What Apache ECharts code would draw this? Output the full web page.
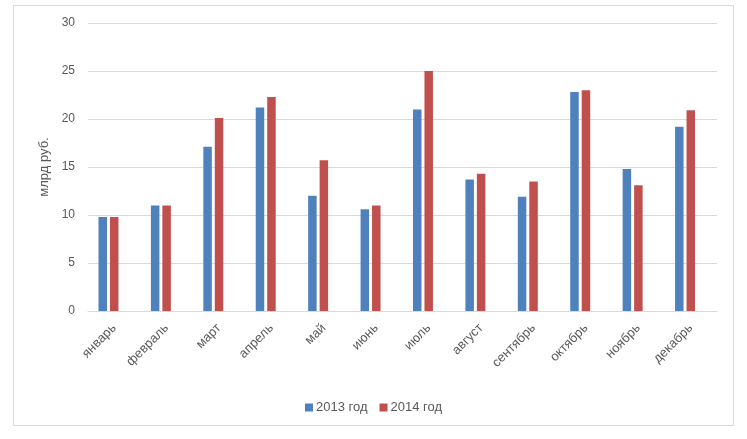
<!DOCTYPE html>
<html>
<head>
<meta charset="utf-8">
<script src="https://cdn.jsdelivr.net/npm/echarts@6/dist/echarts.min.js"></script>
<style>
html,body{margin:0;padding:0;background:#fff;}
#chart{width:747px;height:439px;}
</style>
</head>
<body>
<div id="chart"></div>
<script>
const months = ['январь','февраль','март','апрель','май','июнь','июль','август','сентябрь','октябрь','ноябрь','декабрь'];
const values2013 = [9.8, 11.0, 17.1, 21.2, 12.0, 10.6, 21.0, 13.7, 11.9, 22.8, 14.8, 19.2];
const values2014 = [9.8, 11.0, 20.1, 22.3, 15.7, 11.0, 25.0, 14.3, 13.5, 23.0, 13.1, 20.9];
const emptySlot = [null, null, null, null, null, null, null, null, null, null, null, null];
const yTicks = [0, 5, 10, 15, 20, 25, 30];

const chart = echarts.init(document.getElementById('chart'), null, {renderer: 'canvas'});
const font = 'Liberation Sans, Arial, sans-serif';
chart.setOption({
  animation: false,
  backgroundColor: '#ffffff',
  graphic: [{
    type: 'rect',
    shape: {x: 13.5, y: 5.5, width: 720, height: 420},
    style: {fill: 'none', stroke: '#d9d9d9', lineWidth: 1},
    silent: true
  }],
  grid: {left: 88, right: 30, top: 23, bottom: 128},
  legend: {
    data: ['2013 год', '2014 год'],
    top: 396,
    left: 'center',
    itemWidth: 8,
    itemHeight: 8,
    itemGap: 12,
    icon: 'rect',
    textStyle: {fontFamily: font, fontSize: 13, color: '#595959', padding: [0, 0, 0, -2]}
  },
  xAxis: {
    type: 'category',
    data: months,
    axisLine: {show: true, lineStyle: {color: '#d9d9d9', width: 1}},
    axisTick: {show: false},
    axisLabel: {rotate: 45, fontFamily: font, fontSize: 13, color: '#595959', margin: 15, interval: 0}
  },
  yAxis: {
    type: 'value',
    min: yTicks[0],
    max: yTicks[yTicks.length - 1],
    interval: 5,
    name: 'млрд руб.',
    nameLocation: 'middle',
    nameGap: 36,
    nameTextStyle: {fontFamily: font, fontSize: 13, color: '#595959'},
    axisLine: {show: false},
    axisTick: {show: false},
    axisLabel: {fontFamily: font, fontSize: 12, color: '#595959', margin: 13},
    splitLine: {lineStyle: {color: '#d9d9d9', width: 1}}
  },
  series: [
    {name: '2013 год', type: 'bar', data: values2013, barWidth: 8.5, barGap: '35%', itemStyle: {color: '#4f81bd'}},
    {name: '2014 год', type: 'bar', data: values2014, barWidth: 8.5, barGap: '35%', itemStyle: {color: '#c0504d'}},
    {name: '', type: 'bar', data: emptySlot, barWidth: 8.5, barGap: '35%', itemStyle: {color: 'transparent'}}
  ]
});
</script>
</body>
</html>
